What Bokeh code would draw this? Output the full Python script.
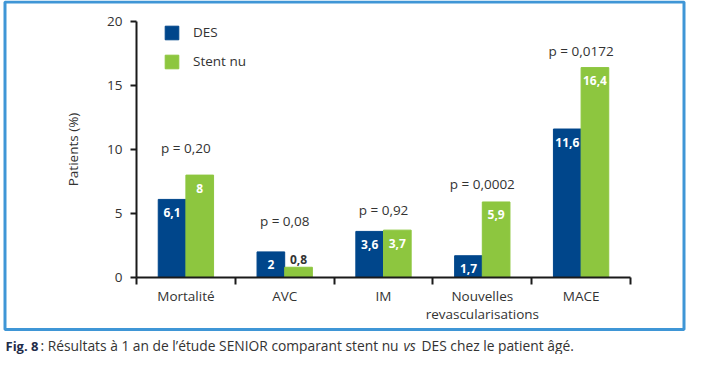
from bokeh.plotting import figure
from bokeh.models import (FixedTicker, Legend, LegendItem, Label, BoxAnnotation,
                          ColumnDataSource, Range1d)
from bokeh.core.properties import value
from bokeh.embed import file_html
from bokeh.resources import INLINE

# ---------------- data ----------------
categories = ["Mortalité", "AVC", "IM", "Nouvelles\nrevascularisations", "MACE"]
des = [6.1, 2.0, 3.6, 1.7, 11.6]
stent_nu = [8.0, 0.8, 3.7, 5.9, 16.4]
series_names = ["DES", "Stent nu"]
p_values = ["p = 0,20", "p = 0,08", "p = 0,92", "p = 0,0002", "p = 0,0172"]
p_label_y = [10.1, 4.4, 5.3, 7.3, 17.7]
y_ticks = [0, 5, 10, 15, 20]
y_label = "Patients (%)"
caption_bold = "Fig. 8"
caption_a = ": Résultats à 1 an de l’étude SENIOR comparant stent nu"
caption_vs = "vs"
caption_b = "DES chez le patient âgé."

# ---------------- style / layout ----------------
FONT = "Open Sans"
FS = "13.5px"
BLUE = "#00468b"
GREEN = "#8dc63f"
TEXT = "#333333"
AXIS = "#1a1a1a"
FRAME = "#3f96d6"
BAR_W = 0.28
W, H = 686, 354
AX_LEFT, AX_RIGHT, AX_BOTTOM, AX_TOP20 = 136, 630, 277, 21   # pixel positions of axes
n = len(categories)
px_x = (AX_RIGHT - AX_LEFT) / n
px_y = (AX_BOTTOM - AX_TOP20) / 20

x_range = Range1d(-AX_LEFT / px_x, n + (W - AX_RIGHT) / px_x)
y_range = Range1d(-(H - AX_BOTTOM) / px_y, 20 + AX_TOP20 / px_y)

p = figure(width=W, height=H, x_range=x_range, y_range=y_range,
           output_backend="svg", toolbar_location=None, min_border=0,
           min_border_left=0, min_border_right=0, min_border_top=0, min_border_bottom=0)
p.grid.visible = False
p.outline_line_color = None
p.background_fill_color = "white"
p.border_fill_color = "white"

idx = list(range(n))
x_des = [i + 0.5 - BAR_W / 2 for i in idx]
x_sn = [i + 0.5 + BAR_W / 2 for i in idx]

r1 = p.vbar(x=x_des, top=des, width=BAR_W, fill_color=BLUE, line_color=BLUE)
r2 = p.vbar(x=x_sn, top=stent_nu, width=BAR_W, fill_color=GREEN, line_color=GREEN)

# value labels
def fmt(v):
    return f"{v:g}".replace(".", ",")

lx, ly, lt, lc, lo = [], [], [], [], []
for xs, vals in ((x_des, des), (x_sn, stent_nu)):
    for x, v in zip(xs, vals):
        inside = v >= 1.5
        lx.append(x)
        ly.append(v)
        lt.append(fmt(v))
        lc.append("white" if inside else TEXT)
        lo.append(13 if inside else -8)
src = ColumnDataSource(dict(x=lx, y=ly, text=lt, color=lc, off=lo))
p.text(x="x", y="y", text="text", source=src, text_color="color", y_offset="off",
       text_align="center", text_baseline="middle", text_font=value(FONT),
       text_font_size="12px", text_font_style="bold")

# p-values
psrc = ColumnDataSource(dict(x=[i + 0.5 for i in idx], y=p_label_y, text=p_values))
p.text(x="x", y="y", text="text", source=psrc, text_color=TEXT,
       text_align="center", text_baseline="middle", text_font=value(FONT),
       text_font_size=FS)

# axes (drawn at fixed data locations inside the full-canvas frame)
ya = p.yaxis[0]
ya.fixed_location = 0
ya.bounds = (0, 20)
ya.ticker = FixedTicker(ticks=y_ticks)
ya.major_tick_out = 6
ya.major_tick_in = 0
ya.minor_tick_out = 0
ya.minor_tick_in = 0
ya.axis_line_width = 2
ya.axis_line_color = AXIS
ya.major_tick_line_width = 2
ya.major_tick_line_color = AXIS
ya.major_label_text_font = FONT
ya.major_label_text_font_size = FS
ya.major_label_text_color = TEXT
ya.major_label_standoff = 8
ya.axis_label = y_label
ya.axis_label_text_font = FONT
ya.axis_label_text_font_size = FS
ya.axis_label_text_font_style = "normal"
ya.axis_label_text_color = TEXT
ya.axis_label_standoff = 22

xa = p.xaxis[0]
xa.fixed_location = 0
xa.bounds = (0, n)
xa.ticker = FixedTicker(ticks=[i + 0.5 for i in idx],
                        minor_ticks=[float(i) for i in range(n + 1)])
xa.major_label_overrides = {i + 0.5: c for i, c in zip(idx, categories)}
xa.major_tick_out = 0
xa.major_tick_in = 0
xa.minor_tick_out = 7
xa.minor_tick_in = 0
xa.minor_tick_line_width = 2
xa.minor_tick_line_color = AXIS
xa.axis_line_width = 2
xa.axis_line_color = AXIS
xa.major_label_text_font = FONT
xa.major_label_text_font_size = FS
xa.major_label_text_color = TEXT
xa.major_label_text_line_height = 1.0
xa.major_label_standoff = 2

# legend
legend = Legend(items=[LegendItem(label=series_names[0], renderers=[r1]),
                       LegendItem(label=series_names[1], renderers=[r2])],
                location=(163, H - 70), glyph_width=17, glyph_height=17,
                label_standoff=13, spacing=11, padding=0, margin=0,
                border_line_alpha=0, background_fill_alpha=0,
                label_text_font=FONT, label_text_font_size=FS,
                label_text_color=TEXT, label_height=17)
p.add_layout(legend)

# outer blue frame
box = BoxAnnotation(left=4.5, right=W - 2.5, top=H - 1.5, bottom=H - 329,
                    left_units="screen", right_units="screen",
                    top_units="screen", bottom_units="screen",
                    fill_alpha=0, line_color=FRAME, line_width=3, line_alpha=1)
p.add_layout(box)

# caption
cap_y = H - 345
for txt, x, style, col, fs in ((caption_bold, 5, "bold", "#1f2d4a", "13px"),
                               (caption_a, 40, "normal", TEXT, "13.8px"),
                               (caption_vs, 403, "italic", TEXT, "13.8px"),
                               (caption_b, 421, "normal", TEXT, "13.8px")):
    p.add_layout(Label(x=x, y=cap_y, x_units="screen", y_units="screen", text=txt,
                       text_baseline="middle", text_font=FONT, text_font_size=fs,
                       text_font_style=style, text_color=col))

open("out.html", "w").write(file_html(p, INLINE))
